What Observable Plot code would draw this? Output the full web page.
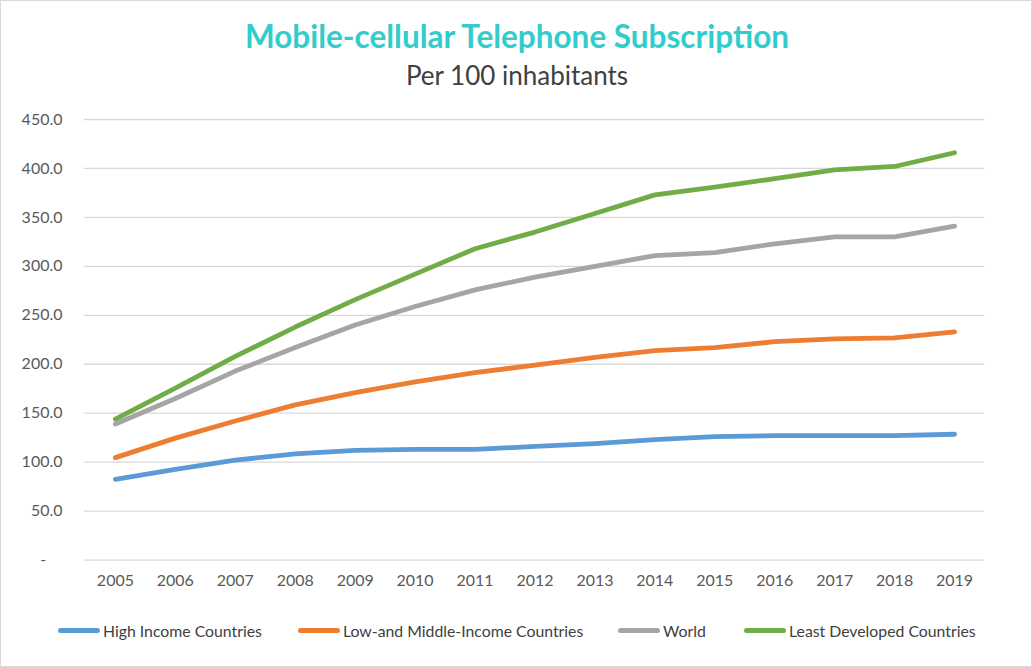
<!DOCTYPE html>
<html>
<head>
<meta charset="utf-8">
<script src="https://cdn.jsdelivr.net/npm/d3@7"></script>
<script src="https://cdn.jsdelivr.net/npm/@observablehq/plot@0.6"></script>
<style>
  html, body { margin: 0; padding: 0; background: #fff; }
  #chart { position: relative; width: 1030px; height: 665px; border: 1px solid #d9d9d9; font-family: Lato, "Open Sans", sans-serif; overflow: hidden; }
  #title { position: absolute; top: 16px; left: 0; width: 1032px; text-align: center; font-size: 31.5px; font-weight: bold; color: #33cccc; }
  #subtitle { position: absolute; top: 58px; left: 0; width: 1032px; text-align: center; font-size: 26px; color: #404040; }
  #plot { position: absolute; top: 98px; left: -1px; }
  #legend { position: absolute; top: 620px; left: 0; width: 1032px; font-size: 15.8px; color: #404040; }
  .item { position: absolute; display: flex; align-items: center; white-space: nowrap; }
  .sw { width: 42px; height: 5px; border-radius: 3px; margin-right: 3px; }
</style>
</head>
<body>
<div id="chart">
  <div id="title">Mobile-cellular Telephone Subscription</div>
  <div id="subtitle">Per 100 inhabitants</div>
  <div id="plot"></div>
  <div id="legend"></div>
</div>
<script>
const years = ["2005","2006","2007","2008","2009","2010","2011","2012","2013","2014","2015","2016","2017","2018","2019"];
const seriesNames = ["High Income Countries", "Low-and Middle-Income Countries", "World", "Least Developed Countries"];
const seriesColors = ["#5b9bd5", "#ed7d31", "#a5a5a5", "#70ad47"];
const highIncome = [82.5, 92.7, 102, 108.5, 112, 113, 113, 116, 119, 123, 126, 127, 127, 127, 128.5];
const lowMiddleIncome = [104.6, 124.5, 142, 158.5, 171, 182, 191.5, 199, 207, 214, 217, 223, 226, 227, 233];
const world = [139, 165, 193, 217, 240, 259, 276, 289, 300, 311, 314, 323, 330, 330, 341];
const leastDeveloped = [144, 175.5, 208, 238, 266, 292, 318, 335, 354, 373, 381, 389.5, 398.5, 402, 416];
const yTicks = [0, 50, 100, 150, 200, 250, 300, 350, 400, 450];

const seriesValues = [highIncome, lowMiddleIncome, world, leastDeveloped];
const data = [];
seriesNames.forEach((s, i) => years.forEach((y, j) => data.push({series: s, year: y, value: seriesValues[i][j]})));

const plot = Plot.plot({
  width: 1032,
  height: 502,
  marginTop: 20,
  marginBottom: 41,
  marginLeft: 84,
  marginRight: 47,
  style: { fontFamily: "Lato, 'Open Sans', sans-serif", fontSize: "16px", color: "#595959", background: "transparent" },
  x: { type: "point", domain: years, padding: 0.5, label: null },
  y: { domain: [0, 450], label: null },
  color: { domain: seriesNames, range: seriesColors },
  marks: [
    Plot.gridY(yTicks, { stroke: "#d9d9d9", strokeOpacity: 1, strokeWidth: 1.3 }),
    Plot.axisY(yTicks, { tickSize: 0, tickPadding: 22, tickFormat: d => d === 0 ? "-    " : d3.format(".1f")(d), fill: "#595959", fontSize: 16, label: null }),
    Plot.axisX({ tickSize: 0, tickPadding: 15, fill: "#595959", fontSize: 16, label: null }),
    Plot.line(data, { x: "year", y: "value", z: "series", stroke: "series", strokeWidth: 4.8, strokeLinecap: "round", strokeLinejoin: "round" })
  ]
});
document.getElementById("plot").appendChild(plot);

const legendX = [57, 297, 617, 743];
const legend = document.getElementById("legend");
seriesNames.forEach((s, i) => {
  const it = document.createElement("div");
  it.className = "item";
  it.style.left = legendX[i] + "px";
  const sw = document.createElement("div");
  sw.className = "sw";
  sw.style.background = seriesColors[i];
  const t = document.createElement("span");
  t.textContent = s;
  it.appendChild(sw); it.appendChild(t);
  legend.appendChild(it);
});
</script>
</body>
</html>
